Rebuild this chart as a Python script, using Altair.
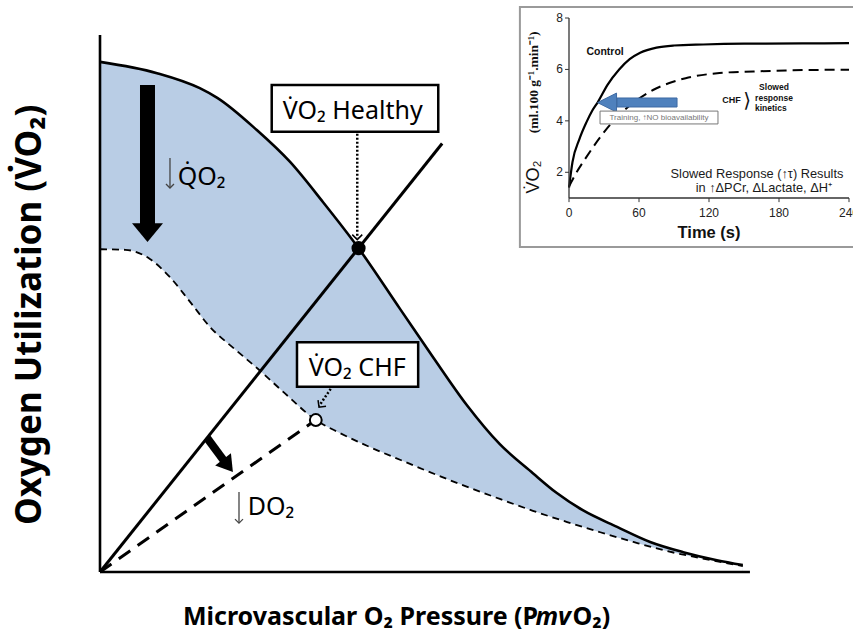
import altair as alt
import pandas as pd

# ---------------- main schematic (arbitrary units, 0-100) ----------------
healthy_x = [0, 8.8, 15.4, 18.1, 24.2, 29.3, 34.4, 39.9, 46.3, 51.4, 56.6, 61.7,
             66.8, 70.5, 74.5, 79.8, 84.9, 90.0, 95.2, 99.2]
healthy_y = [95.0, 92.9, 90.1, 88.3, 82.3, 76.4, 68.9, 60.3, 49.0, 40.0, 31.1, 23.8,
             18.4, 14.7, 11.5, 8.4, 5.6, 3.7, 2.2, 1.3]
chf_x = [0, 3.9, 7.7, 10.8, 13.9, 17.0, 20.8, 24.4, 28.5, 33.3, 37.0, 41.2, 46.3,
         54.0, 61.7, 66.8, 72.1, 77.2, 82.3, 87.5, 92.6, 99.2]
chf_y = [60.1, 60.0, 58.3, 54.9, 50.3, 45.6, 41.5, 37.8, 33.3, 28.3, 25.9, 23.5, 20.9,
         17.1, 13.6, 11.4, 9.3, 7.4, 5.6, 3.9, 2.6, 1.1]

do2_healthy_x = [0, 52.8]
do2_healthy_y = [0, 79.8]
do2_chf_x = [0, 33.3]
do2_chf_y = [0, 28.3]

vo2_healthy_pt = (39.9, 60.3)
vo2_chf_pt = (33.3, 28.3)

# ---------------- inset: VO2 kinetics ----------------
t_control = [0, 3, 9, 15, 20, 25, 33, 43, 52, 61, 75, 90, 115, 150, 200, 240]
v_control = [1.4, 2.4, 3.3, 3.95, 4.4, 4.75, 5.4, 6.0, 6.4, 6.65, 6.85, 6.93, 6.97, 7.0, 7.01, 7.02]
t_chf = [0, 6, 15, 29, 43, 58, 72, 86, 100, 129, 158, 186, 240]
v_chf = [1.45, 1.96, 2.6, 3.5, 4.23, 4.8, 5.2, 5.47, 5.66, 5.86, 5.92, 5.96, 5.99]
inset_xticks = [0, 60, 120, 180, 240]
inset_yticks = [2, 4, 6, 8]

FONT = "Noto Sans"
BLUE_FILL = "#b9cde5"

MX = alt.Scale(domain=[0, 100], range=[100, 748], nice=False, zero=False)
MY = alt.Scale(domain=[0, 100], range=[572, 35], nice=False, zero=False)
IX = alt.Scale(domain=[0, 240], range=[569, 849], nice=False, zero=False)
IY = alt.Scale(domain=[1, 8], range=[198, 18], nice=False, zero=False)


def mx(f):
    return alt.X(f, type="quantitative", scale=MX, axis=None)


def my(f):
    return alt.Y(f, type="quantitative", scale=MY, axis=None)


def ix(f):
    return alt.X(f, type="quantitative", scale=IX, axis=None)


def iy(f):
    return alt.Y(f, type="quantitative", scale=IY, axis=None)


def mtext(x, y, text, **kw):
    df = pd.DataFrame({"x": [x], "y": [y], "t": [text]})
    return alt.Chart(df).mark_text(**kw).encode(x=mx("x"), y=my("y"), text="t:N")


def itext(x, y, text, **kw):
    df = pd.DataFrame({"x": [x], "y": [y], "t": [text]})
    return alt.Chart(df).mark_text(**kw).encode(x=ix("x"), y=iy("y"), text="t:N")


def mrule(x1, y1, x2, y2, **kw):
    df = pd.DataFrame({"x": [x1], "y": [y1], "x2": [x2], "y2": [y2]})
    return alt.Chart(df).mark_rule(**kw).encode(x=mx("x"), y=my("y"),
                                                x2=alt.X2("x2"), y2=alt.Y2("y2"))


def irule(x1, y1, x2, y2, **kw):
    df = pd.DataFrame({"x": [x1], "y": [y1], "x2": [x2], "y2": [y2]})
    return alt.Chart(df).mark_rule(**kw).encode(x=ix("x"), y=iy("y"),
                                                x2=alt.X2("x2"), y2=alt.Y2("y2"))


def mrect(x1, y1, x2, y2, **kw):
    df = pd.DataFrame({"x": [x1], "y": [y1], "x2": [x2], "y2": [y2]})
    return alt.Chart(df).mark_rect(**kw).encode(x=mx("x"), y=my("y"),
                                                x2=alt.X2("x2"), y2=alt.Y2("y2"))


def irect(x1, y1, x2, y2, **kw):
    df = pd.DataFrame({"x": [x1], "y": [y1], "x2": [x2], "y2": [y2]})
    return alt.Chart(df).mark_rect(**kw).encode(x=ix("x"), y=iy("y"),
                                                x2=alt.X2("x2"), y2=alt.Y2("y2"))


def mpoint(x, y, **kw):
    df = pd.DataFrame({"x": [x], "y": [y]})
    return alt.Chart(df).mark_point(**kw).encode(x=mx("x"), y=my("y"))


def ipoint(x, y, **kw):
    df = pd.DataFrame({"x": [x], "y": [y]})
    return alt.Chart(df).mark_point(**kw).encode(x=ix("x"), y=iy("y"))


healthy_df = pd.DataFrame({"x": healthy_x, "y": healthy_y, "y0": 0})
chf_df = pd.DataFrame({"x": chf_x, "y": chf_y, "y0": 0})

TRI_DOWN = "M-1,-0.6L1,-0.6L0,0.6Z"
TRI_DOWN_LONG = "M-1,-0.8L1,-0.8L0,0.8Z"
CHEVRON = "M-1,-1L0,0L1,-1"
TRI_LEFT = "M1,-1L1,1L-1,0Z"

main_layers = [
    alt.Chart(healthy_df).mark_area(color=BLUE_FILL, interpolate="monotone").encode(
        x=mx("x"), y=my("y"), y2=alt.Y2("y0")),
    alt.Chart(chf_df).mark_area(color="white", interpolate="monotone").encode(
        x=mx("x"), y=my("y"), y2=alt.Y2("y0")),
    alt.Chart(healthy_df).mark_line(color="black", strokeWidth=2.6, interpolate="monotone").encode(
        x=mx("x"), y=my("y")),
    alt.Chart(chf_df).mark_line(color="black", strokeWidth=1.8, strokeDash=[7, 5],
                                interpolate="monotone").encode(x=mx("x"), y=my("y")),
    mrule(do2_healthy_x[0], do2_healthy_y[0], do2_healthy_x[1], do2_healthy_y[1],
          color="black", strokeWidth=3),
    mrule(do2_chf_x[0], do2_chf_y[0], do2_chf_x[1], do2_chf_y[1],
          color="black", strokeWidth=3, strokeDash=[14, 9]),
    # axes
    mrule(0, 0, 0, 100, color="black", strokeWidth=2.6),
    mrule(0, 0, 100.3, 0, color="black", strokeWidth=2.6),
    # decreasing QO2 arrow
    mrule(7.33, 90.7, 7.33, 64.6, color="black", strokeWidth=15),
    mpoint(7.33, 63.2, shape=TRI_DOWN, size=961, filled=True, color="black", opacity=1),
    # decreasing DO2 arrow
    mrule(16.5, 25.0, 19.2, 20.6, color="black", strokeWidth=8),
    mpoint(19.75, 19.8, shape=TRI_DOWN_LONG, size=400, angle=322, filled=True,
           color="black", opacity=1),
    # dotted pointers
    mrule(39.7, 81.6, 39.7, 62.2, color="black", strokeWidth=2.5, strokeDash=[2, 2]),
    mpoint(39.7, 61.9, shape=CHEVRON, size=100, filled=False, color="black",
           strokeWidth=1.5, opacity=1),
    mrule(35.6, 34.1, 33.8, 30.9, color="black", strokeWidth=2.5, strokeDash=[2, 2]),
    mpoint(33.8, 30.7, shape=CHEVRON, size=100, angle=37, filled=False, color="black",
           strokeWidth=1.5, opacity=1),
    # label boxes
    mrect(26.5, 90.7, 52.2, 82.0, fill="white", stroke="black", strokeWidth=2.5),
    mtext(39.0, 84.3, "V\u0307O\u2082 Healthy", font=FONT, fontSize=25, align="center",
          baseline="alphabetic", color="black"),
    mrect(30.4, 42.8, 49.1, 34.5, fill="white", stroke="black", strokeWidth=2.5),
    mtext(39.7, 36.5, "V\u0307O\u2082 CHF", font=FONT, fontSize=25, align="center",
          baseline="alphabetic", color="black"),
    # thin "decrease" arrows and labels
    mrule(10.8, 77.1, 10.8, 71.6, color="#444444", strokeWidth=1.3),
    mpoint(10.8, 71.5, shape=CHEVRON, size=64, filled=False, color="#444444",
           strokeWidth=1.3, opacity=1),
    mtext(12.0, 72.1, "Q\u0307O\u2082", font=FONT, fontSize=25, align="left",
          baseline="alphabetic", color="black"),
    mrule(21.45, 14.9, 21.45, 9.2, color="#444444", strokeWidth=1.3),
    mpoint(21.45, 9.1, shape=CHEVRON, size=64, filled=False, color="#444444",
           strokeWidth=1.3, opacity=1),
    mtext(22.8, 10.6, "DO\u2082", font=FONT, fontSize=25, align="left",
          baseline="alphabetic", color="black"),
    # operating points
    mpoint(vo2_healthy_pt[0], vo2_healthy_pt[1], shape="circle", size=200, filled=True,
           color="black", opacity=1),
    mpoint(vo2_chf_pt[0], vo2_chf_pt[1], shape="circle", size=140, filled=True,
           fill="white", stroke="black", strokeWidth=2, opacity=1),
    # axis titles
    mtext(-10.8, 47.9, "Oxygen Utilization (V\u0307O\u2082)", font=FONT, fontSize=35,
          fontWeight="bold", angle=270, align="center", baseline="middle", color="black"),
    mtext(12.8, -9.87, "Microvascular O\u2082 Pressure (P", font=FONT, fontSize=25,
          fontWeight="bold", align="left", baseline="alphabetic", color="black"),
    mtext(67.2, -9.87, "mv", font=FONT, fontSize=25, fontWeight="bold", fontStyle="italic",
          align="left", baseline="alphabetic", color="black"),
    mtext(72.9, -9.87, "O\u2082)", font=FONT, fontSize=25, fontWeight="bold",
          align="left", baseline="alphabetic", color="black"),
    # inset frame
    mrect(64.8, 105.2, 117.0, 60.5, fill="white", stroke="#9a9a9a", strokeWidth=2),
]

ctrl_df = pd.DataFrame({"t": t_control, "v": v_control})
ichf_df = pd.DataFrame({"t": t_chf, "v": v_chf})
xt_df = pd.DataFrame({"t": inset_xticks, "v": 1.0, "v2": 0.84, "lab": [str(v) for v in inset_xticks]})
yt_df = pd.DataFrame({"v": inset_yticks, "t": -3.4, "t2": 0.0, "lab": [str(v) for v in inset_yticks]})

ARIAL = "Liberation Sans"

inset_layers = [
    alt.Chart(ctrl_df).mark_line(color="black", strokeWidth=2.2, interpolate="monotone").encode(
        x=ix("t"), y=iy("v")),
    alt.Chart(ichf_df).mark_line(color="black", strokeWidth=2, strokeDash=[10, 6],
                                 interpolate="monotone").encode(x=ix("t"), y=iy("v")),
    irule(0, 1, 0, 8, color="#333333", strokeWidth=1.3),
    irule(0, 1, 240, 1, color="#333333", strokeWidth=1.3),
    alt.Chart(xt_df).mark_rule(color="#333333", strokeWidth=1).encode(
        x=ix("t"), y=iy("v"), y2=alt.Y2("v2")),
    alt.Chart(yt_df).mark_rule(color="#333333", strokeWidth=1).encode(
        x=ix("t"), x2=alt.X2("t2"), y=iy("v")),
    alt.Chart(xt_df.assign(vl=0.415)).mark_text(font=ARIAL, fontSize=12, color="#222222",
                                                 baseline="middle", align="center").encode(
        x=ix("t"), y=iy("vl"), text="lab:N"),
    alt.Chart(yt_df.assign(tl=-5.1)).mark_text(font=ARIAL, fontSize=12, color="#222222",
                                                baseline="middle", align="right").encode(
        x=ix("tl"), y=iy("v"), text="lab:N"),
    itext(120, -0.36, "Time (s)", font=ARIAL, fontSize=16.5, fontWeight="bold",
          align="center", baseline="middle", color="#111111"),
    itext(-30.4, 1.82, "V\u0307O\u2082", font=ARIAL, fontSize=18, angle=270,
          align="center", baseline="middle", color="#111111"),
    itext(-30.0, 5.5, "(ml.100 g\u207b\u00b9.min\u207b\u00b9)", font="Liberation Serif",
          fontSize=13.5, fontWeight="bold", angle=270, align="center", baseline="middle",
          color="#111111"),
    itext(30.9, 6.68, "Control", font=ARIAL, fontSize=10.5, fontWeight="bold",
          align="center", baseline="middle", color="#111111"),
    itext(139.3, 4.81, "CHF", font=ARIAL, fontSize=9, fontWeight="bold",
          align="center", baseline="middle", color="#111111"),
    itext(152.6, 4.77, "\u27e9", font="DejaVu Sans", fontSize=20,
          align="center", baseline="middle", color="#111111"),
    itext(175.7, 5.30, "Slowed", font=ARIAL, fontSize=8.5, fontWeight="bold",
          align="center", baseline="middle", color="#111111"),
    itext(175.7, 4.89, "response", font=ARIAL, fontSize=8.5, fontWeight="bold",
          align="center", baseline="middle", color="#111111"),
    itext(173.0, 4.51, "kinetics", font=ARIAL, fontSize=8.5, fontWeight="bold",
          align="center", baseline="middle", color="#111111"),
    itext(161.1, 1.93, "Slowed Response (\u2191\u03c4) Results", font=ARIAL, fontSize=12.8,
          align="center", baseline="middle", color="#1a1a1a"),
    itext(167.0, 1.40, "in \u2191\u0394PCr, \u0394Lactate, \u0394H\u207a", font=ARIAL,
          fontSize=12.8, align="center", baseline="middle", color="#1a1a1a"),
    # training arrow
    irect(41.1, 4.889, 92.6, 4.539, fill="#4f81bd", stroke="#3d6aa3", strokeWidth=1),
    ipoint(32.6, 4.71, shape=TRI_LEFT, size=361, filled=True, fill="#4f81bd",
           stroke="#3d6aa3", strokeWidth=1, opacity=1),
    irect(26.6, 4.38, 127.7, 3.88, fill="white", stroke="#777777", strokeWidth=1),
    itext(77.1, 4.13, "Training, \u2191NO bioavailability", font=ARIAL, fontSize=8,
          align="center", baseline="middle", color="#777777"),
]

main = alt.layer(*main_layers)
inset = alt.layer(*inset_layers)

chart = alt.layer(main, inset).resolve_scale(
    x="independent", y="independent"
).properties(
    width=853, height=637, padding=0,
    autosize=alt.AutoSizeParams(type="none"),
    background="white",
).configure_view(stroke=None)

chart.save("out.html", embed_options={"renderer": "svg", "actions": False})
